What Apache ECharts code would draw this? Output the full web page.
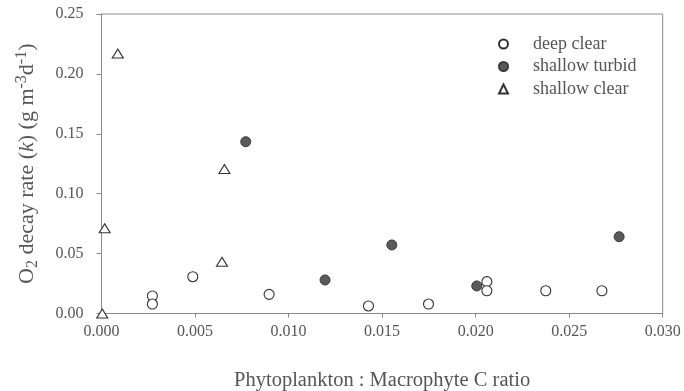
<!DOCTYPE html>
<html>
<head>
<meta charset="utf-8">
<script src="https://cdn.jsdelivr.net/npm/echarts@6/dist/echarts.min.js"></script>
<style>html,body{margin:0;padding:0;background:#fff;}#c{width:684px;height:391px;}</style>
</head>
<body>
<div id="c"></div>
<script>
var seriesNames = ['deep clear', 'shallow turbid', 'shallow clear'];
var deepClearX = [0.00272, 0.00272, 0.00488, 0.00896, 0.01427, 0.01748, 0.0206, 0.0206, 0.02375, 0.02675];
var deepClearY = [0.0146, 0.0079, 0.0307, 0.0160, 0.0063, 0.0079, 0.0266, 0.0190, 0.0190, 0.0190];
var shallowTurbidX = [0.00771, 0.01195, 0.01552, 0.02006, 0.02767];
var shallowTurbidY = [0.1434, 0.0280, 0.0572, 0.0230, 0.0641];
var shallowClearX = [0.00087, 0.00017, 0.00004, 0.00657, 0.00644];
var shallowClearY = [0.2170, 0.0711, 0.0000, 0.1206, 0.0432];
var xTicks = [0, 0.005, 0.010, 0.015, 0.020, 0.025, 0.030];
var yTicks = [0, 0.05, 0.10, 0.15, 0.20, 0.25];

function pairs(xs, ys) { return xs.map(function (x, i) { return [x, ys[i]]; }); }

var font = 'Liberation Serif';
var txt = '#555';
var axisCol = '#8a8a8a';

var chart = echarts.init(document.getElementById('c'));
chart.setOption({
  animation: false,
  backgroundColor: '#fff',
  textStyle: { fontFamily: font },
  grid: { left: 101.5, right: 21.3, top: 14, bottom: 77.5, show: true, borderColor: axisCol, borderWidth: 1,
    containLabel: false, outerBoundsMode: 'none' },
  legend: {
    orient: 'vertical',
    left: 493, top: 30,
    itemWidth: 9, itemHeight: 9, itemGap: 4.5,
    textStyle: { fontFamily: font, fontSize: 18, color: txt, padding: [0, 0, 0, 20] },
    data: seriesNames
  },
  xAxis: {
    type: 'value', min: xTicks[0], max: xTicks[xTicks.length - 1], interval: 0.005,
    splitLine: { show: false },
    axisLine: { lineStyle: { color: axisCol } },
    axisTick: { show: true, length: 4, lineStyle: { color: axisCol } },
    axisLabel: { fontFamily: font, fontSize: 16, color: txt, margin: 10,
      formatter: function (v) { return v.toFixed(3); } },
    name: 'Phytoplankton : Macrophyte C ratio',
    nameLocation: 'middle', nameGap: 57,
    nameTextStyle: { fontFamily: font, fontSize: 20.5, color: txt }
  },
  yAxis: {
    type: 'value', min: yTicks[0], max: yTicks[yTicks.length - 1], interval: 0.05,
    splitLine: { show: false },
    axisLine: { show: true, lineStyle: { color: axisCol } },
    axisTick: { show: true, length: 5, lineStyle: { color: axisCol } },
    axisLabel: { fontFamily: font, fontSize: 16, color: txt, margin: 18,
      formatter: function (v) { return v.toFixed(2); } },
    name: '{a|O}{sub|2}{a| decay rate (}{i|k}{a|) (g m}{sup|-3}{a|d}{sup|-1}{a|)}',
    nameLocation: 'middle', nameGap: 60, nameRotate: 90,
    nameTextStyle: {
      fontFamily: font, fontSize: 22, color: txt,
      rich: {
        a: { fontFamily: font, fontSize: 22, color: txt },
        i: { fontFamily: font, fontSize: 22, color: txt, fontStyle: 'italic' },
        sub: { fontFamily: font, fontSize: 16, color: txt, padding: [10, 0, 0, 0] },
        sup: { fontFamily: font, fontSize: 16, color: txt, padding: [0, 0, 12, 0] }
      }
    }
  },
  series: [
    { name: seriesNames[0], type: 'scatter', symbol: 'circle', symbolSize: 10,
      itemStyle: { color: '#fff', borderColor: '#333', borderWidth: 1.1, opacity: 1 },
      data: pairs(deepClearX, deepClearY) },
    { name: seriesNames[1], type: 'scatter', symbol: 'circle', symbolSize: 10,
      itemStyle: { color: '#5a5a5a', borderColor: '#3a3a3a', borderWidth: 1, opacity: 1 },
      data: pairs(shallowTurbidX, shallowTurbidY) },
    { name: seriesNames[2], type: 'scatter', symbol: 'triangle', symbolSize: [11, 9],
      itemStyle: { color: '#fff', borderColor: '#333', borderWidth: 1.1, opacity: 1 },
      data: pairs(shallowClearX, shallowClearY) }
  ]
});
</script>
</body>
</html>
